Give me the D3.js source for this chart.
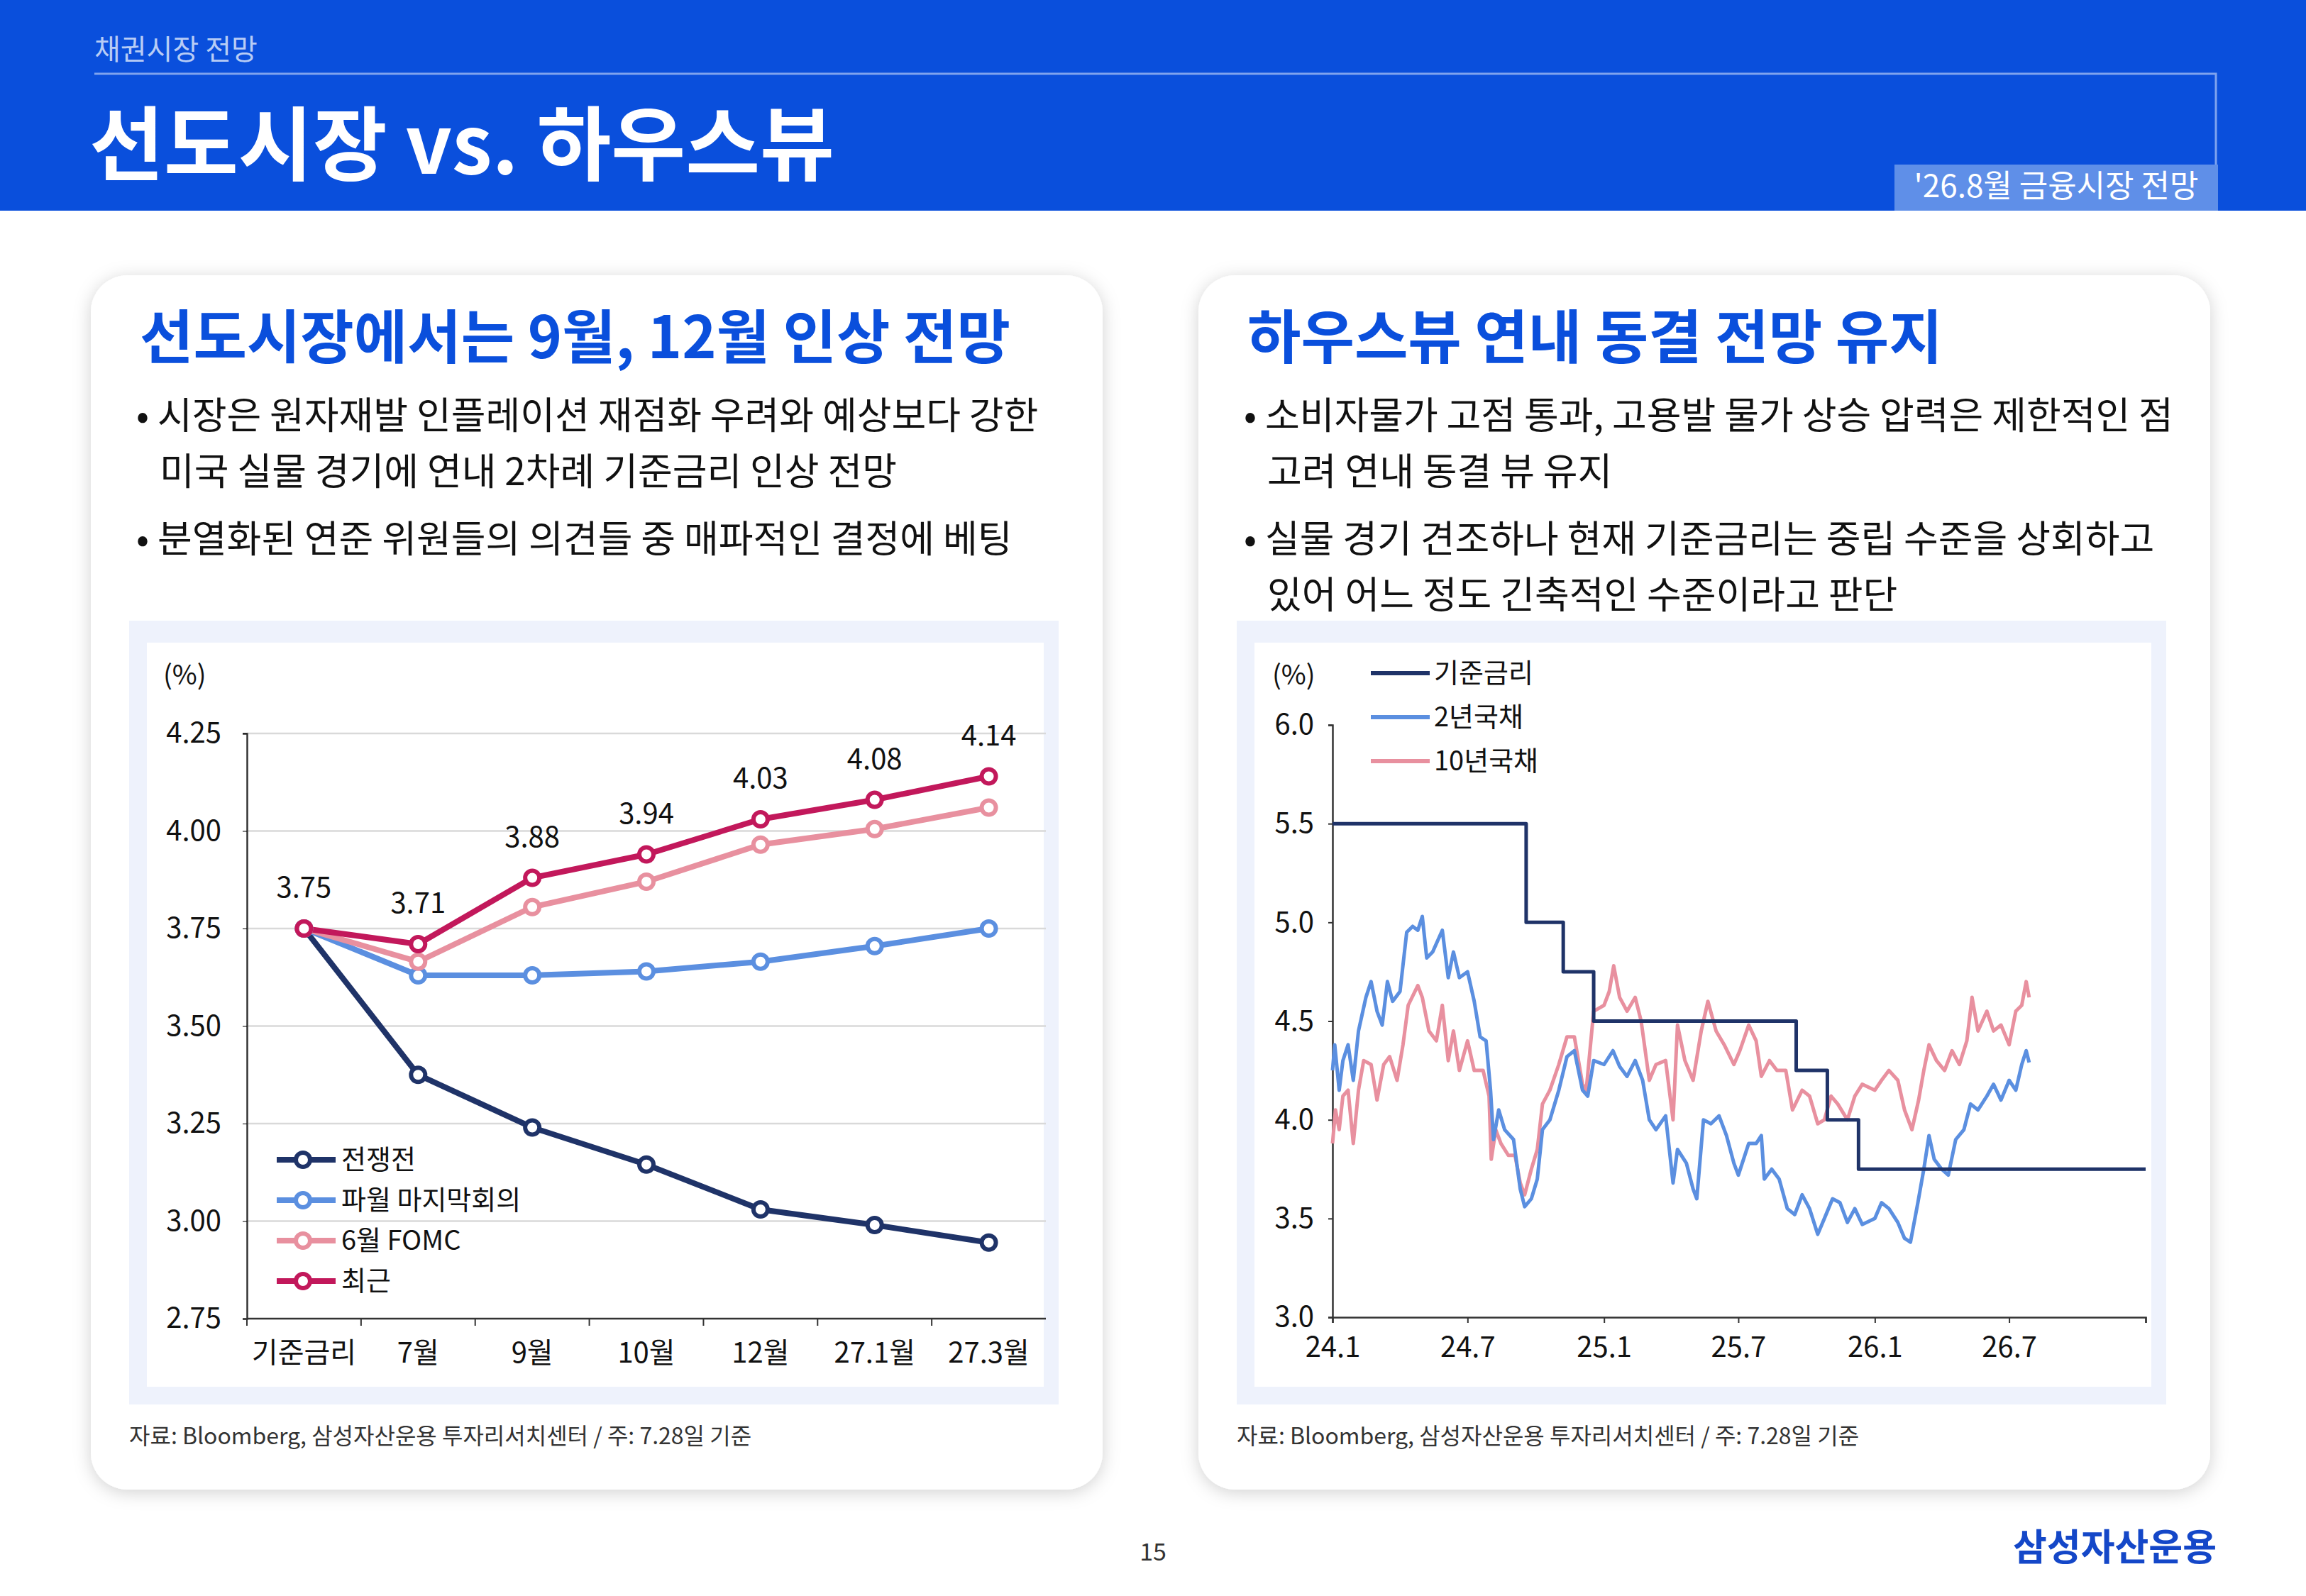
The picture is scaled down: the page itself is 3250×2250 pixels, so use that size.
<!DOCTYPE html>
<html><head><meta charset="utf-8">
<script src="https://cdn.jsdelivr.net/npm/d3@7"></script>
<style>
body{margin:0;background:#fff;}
text{font-family:"Noto Sans CJK KR","Noto Sans",sans-serif;}
</style></head>
<body>
<svg id="c" width="3250" height="2250"></svg>
<script>
// left chart data
const categories = ['기준금리', '7월', '9월', '10월', '12월', '27.1월', '27.3월'];
const prewar = [3.75, 3.375, 3.24, 3.145, 3.03, 2.99, 2.945];
const powellLast = [3.75, 3.63, 3.63, 3.64, 3.665, 3.705, 3.75];
const juneFomc = [3.75, 3.665, 3.805, 3.87, 3.965, 4.005, 4.06];
const recent = [3.75, 3.71, 3.88, 3.94, 4.03, 4.08, 4.14];
const leftTicks = [2.75, 3.0, 3.25, 3.5, 3.75, 4.0, 4.25];

// right chart data
const policyRate = [['2024-01-01', 5.5], ['2024-09-18', 5.0], ['2024-11-07', 4.75], ['2024-12-18', 4.5],
  ['2025-09-17', 4.25], ['2025-10-29', 4.0], ['2025-12-10', 3.75], ['2027-01-01', 3.75]];
const ust2y = [['2024-01-01', 4.25], ['2024-01-04', 4.38], ['2024-01-10', 4.15], ['2024-01-15', 4.30], ['2024-01-22', 4.38],
  ['2024-01-29', 4.20], ['2024-02-05', 4.45], ['2024-02-15', 4.62], ['2024-02-22', 4.70], ['2024-03-01', 4.55],
  ['2024-03-08', 4.48], ['2024-03-15', 4.70], ['2024-03-22', 4.60], ['2024-04-01', 4.65], ['2024-04-10', 4.95],
  ['2024-04-18', 4.98], ['2024-04-25', 4.96], ['2024-05-01', 5.03], ['2024-05-07', 4.82], ['2024-05-15', 4.85],
  ['2024-05-28', 4.96], ['2024-06-05', 4.72], ['2024-06-12', 4.85], ['2024-06-20', 4.72], ['2024-07-01', 4.75],
  ['2024-07-10', 4.60], ['2024-07-18', 4.42], ['2024-07-26', 4.40], ['2024-08-01', 4.15], ['2024-08-05', 3.90],
  ['2024-08-12', 4.05], ['2024-08-20', 3.95], ['2024-09-01', 3.90], ['2024-09-10', 3.65], ['2024-09-16', 3.56],
  ['2024-09-25', 3.60], ['2024-10-03', 3.70], ['2024-10-10', 3.95], ['2024-10-20', 4.00], ['2024-11-01', 4.15],
  ['2024-11-12', 4.32], ['2024-11-22', 4.35], ['2024-12-03', 4.15], ['2024-12-10', 4.12], ['2024-12-18', 4.30],
  ['2025-01-01', 4.28], ['2025-01-13', 4.35], ['2025-01-22', 4.27], ['2025-02-01', 4.22], ['2025-02-12', 4.30],
  ['2025-02-22', 4.20], ['2025-03-03', 4.00], ['2025-03-12', 3.95], ['2025-03-25', 4.02], ['2025-04-04', 3.68],
  ['2025-04-10', 3.85], ['2025-04-22', 3.78], ['2025-05-01', 3.65], ['2025-05-06', 3.60], ['2025-05-15', 4.00],
  ['2025-05-25', 3.98], ['2025-06-05', 4.02], ['2025-06-15', 3.92], ['2025-06-25', 3.78], ['2025-07-01', 3.72],
  ['2025-07-15', 3.88], ['2025-07-25', 3.88], ['2025-08-01', 3.92], ['2025-08-05', 3.70], ['2025-08-15', 3.75],
  ['2025-08-25', 3.70], ['2025-09-05', 3.55], ['2025-09-15', 3.52], ['2025-09-25', 3.62], ['2025-10-05', 3.55],
  ['2025-10-16', 3.42], ['2025-10-25', 3.50], ['2025-11-05', 3.60], ['2025-11-15', 3.58], ['2025-11-25', 3.48],
  ['2025-12-05', 3.55], ['2025-12-15', 3.47], ['2026-01-01', 3.50], ['2026-01-10', 3.58], ['2026-01-20', 3.55],
  ['2026-02-01', 3.48], ['2026-02-10', 3.40], ['2026-02-18', 3.38], ['2026-02-28', 3.58], ['2026-03-08', 3.75],
  ['2026-03-15', 3.92], ['2026-03-22', 3.80], ['2026-04-01', 3.75], ['2026-04-10', 3.72], ['2026-04-20', 3.90],
  ['2026-05-01', 3.95], ['2026-05-10', 4.08], ['2026-05-20', 4.05], ['2026-06-01', 4.12], ['2026-06-10', 4.18],
  ['2026-06-20', 4.10], ['2026-07-01', 4.20], ['2026-07-10', 4.15], ['2026-07-18', 4.28], ['2026-07-24', 4.35],
  ['2026-07-28', 4.29]];
const ust10y = [['2024-01-01', 3.88], ['2024-01-05', 4.05], ['2024-01-10', 3.95], ['2024-01-15', 4.12], ['2024-01-22', 4.15],
  ['2024-01-29', 3.88], ['2024-02-05', 4.15], ['2024-02-12', 4.30], ['2024-02-22', 4.28], ['2024-03-01', 4.10],
  ['2024-03-10', 4.28], ['2024-03-18', 4.32], ['2024-03-28', 4.20], ['2024-04-05', 4.38], ['2024-04-12', 4.58],
  ['2024-04-25', 4.68], ['2024-05-01', 4.62], ['2024-05-10', 4.45], ['2024-05-20', 4.40], ['2024-05-28', 4.58],
  ['2024-06-05', 4.30], ['2024-06-12', 4.45], ['2024-06-20', 4.25], ['2024-07-01', 4.40], ['2024-07-10', 4.25],
  ['2024-07-22', 4.25], ['2024-07-30', 4.12], ['2024-08-02', 3.80], ['2024-08-08', 3.95], ['2024-08-15', 3.88],
  ['2024-08-25', 3.82], ['2024-09-03', 3.82], ['2024-09-10', 3.68], ['2024-09-16', 3.62], ['2024-09-25', 3.75],
  ['2024-10-03', 3.85], ['2024-10-10', 4.08], ['2024-10-20', 4.15], ['2024-11-01', 4.28], ['2024-11-12', 4.42],
  ['2024-11-22', 4.42], ['2024-12-03', 4.18], ['2024-12-08', 4.15], ['2024-12-18', 4.55], ['2025-01-01', 4.58],
  ['2025-01-08', 4.65], ['2025-01-14', 4.78], ['2025-01-22', 4.62], ['2025-02-01', 4.55], ['2025-02-12', 4.62],
  ['2025-02-20', 4.50], ['2025-03-03', 4.20], ['2025-03-12', 4.28], ['2025-03-25', 4.30], ['2025-04-04', 4.00],
  ['2025-04-10', 4.48], ['2025-04-20', 4.30], ['2025-05-01', 4.20], ['2025-05-12', 4.45], ['2025-05-21', 4.60],
  ['2025-06-01', 4.45], ['2025-06-12', 4.38], ['2025-06-25', 4.28], ['2025-07-03', 4.35], ['2025-07-15', 4.48],
  ['2025-07-25', 4.40], ['2025-08-01', 4.22], ['2025-08-12', 4.30], ['2025-08-22', 4.25], ['2025-09-03', 4.25],
  ['2025-09-12', 4.05], ['2025-09-25', 4.15], ['2025-10-05', 4.12], ['2025-10-16', 3.98], ['2025-10-25', 4.00],
  ['2025-11-03', 4.12], ['2025-11-12', 4.08], ['2025-11-25', 4.00], ['2025-12-05', 4.12], ['2025-12-15', 4.18],
  ['2026-01-01', 4.15], ['2026-01-10', 4.20], ['2026-01-20', 4.25], ['2026-02-01', 4.20], ['2026-02-10', 4.05],
  ['2026-02-20', 3.95], ['2026-03-01', 4.10], ['2026-03-08', 4.25], ['2026-03-15', 4.38], ['2026-03-25', 4.30],
  ['2026-04-05', 4.25], ['2026-04-15', 4.35], ['2026-04-25', 4.28], ['2026-05-05', 4.40], ['2026-05-12', 4.62],
  ['2026-05-20', 4.45], ['2026-06-01', 4.55], ['2026-06-10', 4.45], ['2026-06-20', 4.48], ['2026-07-01', 4.38],
  ['2026-07-10', 4.55], ['2026-07-18', 4.58], ['2026-07-24', 4.70], ['2026-07-28', 4.62]];
const rightTicks = [3.0, 3.5, 4.0, 4.5, 5.0, 5.5, 6.0];
const rightXTicks = ['2024-01-01', '2024-07-01', '2025-01-01', '2025-07-01', '2026-01-01', '2026-07-01'];

const blue = '#0a4fdc';
const navy = '#1f3368', lightBlue = '#5b8fe0', pink = '#e8909f', magenta = '#c2185b';

const svg = d3.select('#c');

// header
svg.append('rect').attr('width', 3250).attr('height', 297).attr('fill', blue);
svg.append('text').attr('x', 133).attr('y', 84).attr('fill', '#b8ccf5').attr('font-size', 40).text('채권시장 전망');
svg.append('path').attr('d', 'M133,104H3123V232').attr('fill', 'none').attr('stroke', '#7fa3ee').attr('stroke-width', 3);
svg.append('text').attr('x', 126).attr('y', 245).attr('fill', '#fff').attr('font-size', 114).attr('font-weight', 700)
  .text('선도시장 vs. 하우스뷰');
svg.append('rect').attr('x', 2670).attr('y', 232).attr('width', 456).attr('height', 65).attr('fill', '#5f8fe8');
svg.append('text').attr('x', 2898).attr('y', 278).attr('text-anchor', 'middle').attr('fill', '#fff')
  .attr('font-size', 44).text("'26.8월 금융시장 전망");

// cards
const defs = svg.append('defs');
const f = defs.append('filter').attr('id', 'sh').attr('x', -0.1).attr('y', -0.1).attr('width', 1.2).attr('height', 1.2);
f.append('feDropShadow').attr('dx', 0).attr('dy', 4).attr('stdDeviation', 12).attr('flood-color', '#000').attr('flood-opacity', 0.18);

const cards = [
  { x: 128, title: '선도시장에서는 9월, 12월 인상 전망',
    lines: [['• 시장은 원자재발 인플레이션 재점화 우려와 예상보다 강한', 605, 0], ['미국 실물 경기에 연내 2차례 기준금리 인상 전망', 684, 1],
      ['• 분열화된 연준 위원들의 의견들 중 매파적인 결정에 베팅', 779, 0]] },
  { x: 1689, title: '하우스뷰 연내 동결 전망 유지',
    lines: [['• 소비자물가 고점 통과, 고용발 물가 상승 압력은 제한적인 점', 605, 0], ['고려 연내 동결 뷰 유지', 684, 1],
      ['• 실물 경기 견조하나 현재 기준금리는 중립 수준을 상회하고', 779, 0], ['있어 어느 정도 긴축적인 수준이라고 판단', 858, 1]] },
];
cards.forEach((c) => {
  svg.append('rect').attr('x', c.x).attr('y', 388).attr('width', 1426).attr('height', 1712).attr('rx', 52)
    .attr('fill', '#fff').attr('filter', 'url(#sh)');
  svg.append('text').attr('x', c.x + 69).attr('y', 505).attr('fill', blue).attr('font-size', 82).attr('font-weight', 700).text(c.title);
  c.lines.forEach(([t, y, indent]) => {
    svg.append('text').attr('x', c.x + 64 + indent * 33).attr('y', y).attr('fill', '#111').attr('font-size', 53).text(t);
  });
  svg.append('rect').attr('x', c.x + 54).attr('y', 875).attr('width', 1310).attr('height', 1105).attr('fill', '#eef2fc');
  svg.append('rect').attr('x', c.x + 79).attr('y', 906).attr('width', 1264).attr('height', 1049).attr('fill', '#fff');
  svg.append('text').attr('x', c.x + 54).attr('y', 2036).attr('fill', '#333').attr('font-size', 32)
    .text('자료: Bloomberg, 삼성자산운용 투자리서치센터 / 주: 7.28일 기준');
});

// ---- left chart ----
const lx = d3.scaleBand().domain(categories).range([348, 1474]);
const ly = d3.scaleLinear().domain([2.75, 4.25]).range([1859, 1034]);
const lg = svg.append('g');
lg.selectAll('.grid').data(leftTicks.slice(1)).enter().append('line')
  .attr('x1', 348).attr('x2', 1474).attr('y1', (d) => ly(d)).attr('y2', (d) => ly(d))
  .attr('stroke', '#d9d9d9').attr('stroke-width', 2.5);
const lyAxis = lg.append('g').attr('transform', 'translate(348,0)')
  .call(d3.axisLeft(ly).tickValues(leftTicks).tickFormat(d3.format('.2f')).tickSize(6).tickPadding(30));
const lxAxis = lg.append('g').attr('transform', 'translate(0,1859)')
  .call(d3.axisBottom(lx).tickSize(0).tickPadding(34));
lxAxis.selectAll('.tick').append('line').attr('x1', -lx.bandwidth() / 2).attr('x2', -lx.bandwidth() / 2)
  .attr('y2', 10).attr('stroke', '#333').attr('stroke-width', 2);
[lyAxis, lxAxis].forEach((a) => {
  a.select('.domain').attr('stroke', '#333').attr('stroke-width', 2.5);
  a.selectAll('text').attr('font-size', 40).attr('fill', '#111').attr('font-family', 'Roboto,"Noto Sans CJK KR",sans-serif');
});
lxAxis.select('.domain').attr('d', 'M348,0H1474');
lg.append('text').attr('x', 230).attr('y', 965).attr('font-size', 38).attr('fill', '#111').text('(%)');

const lSeries = [
  { name: '전쟁전', values: prewar, color: navy },
  { name: '파월 마지막회의', values: powellLast, color: lightBlue },
  { name: '6월 FOMC', values: juneFomc, color: pink },
  { name: '최근', values: recent, color: magenta },
];
const cx = (i) => lx(categories[i]) + lx.bandwidth() / 2;
const lline = d3.line().x((d, i) => cx(i)).y((d) => ly(d));
lSeries.forEach((s) => {
  lg.append('path').datum(s.values).attr('d', lline).attr('fill', 'none').attr('stroke', s.color).attr('stroke-width', 8);
});
lSeries.forEach((s) => {
  lg.selectAll(null).data(s.values).enter().append('circle')
    .attr('cx', (d, i) => cx(i)).attr('cy', (d) => ly(d)).attr('r', 10)
    .attr('fill', '#fff').attr('stroke', s.color).attr('stroke-width', 6);
});
lg.selectAll('.lbl').data(recent).enter().append('text')
  .attr('x', (d, i) => cx(i)).attr('y', (d) => ly(d) - 44).attr('text-anchor', 'middle')
  .attr('font-size', 40).attr('fill', '#111').attr('font-family', 'Roboto,sans-serif').text((d) => d.toFixed(2));
lSeries.forEach((s, i) => {
  const y = 1635 + i * 57;
  lg.append('line').attr('x1', 390).attr('x2', 473).attr('y1', y).attr('y2', y).attr('stroke', s.color).attr('stroke-width', 8);
  lg.append('circle').attr('cx', 427).attr('cy', y).attr('r', 10).attr('fill', '#fff').attr('stroke', s.color).attr('stroke-width', 6);
  lg.append('text').attr('x', 481).attr('y', y + 13).attr('font-size', 38).attr('fill', '#111').text(s.name);
});

// ---- right chart ----
const parse = d3.timeParse('%Y-%m-%d');
const rx = d3.scaleTime().domain([parse('2024-01-01'), parse('2027-01-01')]).range([1878, 3024]);
const ry = d3.scaleLinear().domain([3, 6]).range([1857, 1022]);
const rg = svg.append('g');
const ryAxis = rg.append('g').attr('transform', 'translate(1878,0)')
  .call(d3.axisLeft(ry).tickValues(rightTicks).tickFormat(d3.format('.1f')).tickSize(6).tickPadding(20));
const rxAxis = rg.append('g').attr('transform', 'translate(0,1857)')
  .call(d3.axisBottom(rx).tickValues(rightXTicks.map(parse).concat([parse('2027-01-01')]))
    .tickFormat((d) => d.getFullYear() === 2027 ? '' : d3.timeFormat('%y.')(d) + (d.getMonth() + 1)).tickSize(8).tickPadding(20));
[ryAxis, rxAxis].forEach((a) => {
  a.select('.domain').attr('stroke', '#333').attr('stroke-width', 2.5);
  a.selectAll('.tick line').attr('stroke', '#333').attr('stroke-width', 2);
  a.selectAll('text').attr('font-size', 40).attr('fill', '#111').attr('font-family', 'Roboto,sans-serif');
});
rg.append('text').attr('x', 1793).attr('y', 965).attr('font-size', 38).attr('fill', '#111').text('(%)');

const rline = d3.line().x((d) => rx(parse(d[0]))).y((d) => ry(d[1]));
const stepLine = d3.line().x((d) => rx(parse(d[0]))).y((d) => ry(d[1])).curve(d3.curveStepAfter);
const rSeries = [
  { name: '기준금리', data: policyRate, color: navy, gen: stepLine },
  { name: '2년국채', data: ust2y, color: lightBlue, gen: rline },
  { name: '10년국채', data: ust10y, color: pink, gen: rline },
];
[rSeries[2], rSeries[1], rSeries[0]].forEach((s) => {
  rg.append('path').datum(s.data).attr('d', s.gen).attr('fill', 'none').attr('stroke', s.color)
    .attr('stroke-width', 5).attr('stroke-linejoin', 'round');
});
rSeries.forEach((s, i) => {
  const y = 949 + i * 62;
  rg.append('line').attr('x1', 1932).attr('x2', 2015).attr('y1', y).attr('y2', y).attr('stroke', s.color).attr('stroke-width', 6);
  rg.append('text').attr('x', 2021).attr('y', y + 13).attr('font-size', 38).attr('fill', '#111').text(s.name);
});

// footer
svg.append('text').attr('x', 1625).attr('y', 2200).attr('text-anchor', 'middle').attr('font-size', 34).attr('fill', '#333').text('15');
svg.append('text').attr('x', 3124).attr('y', 2200).attr('text-anchor', 'end').attr('font-size', 52).attr('font-weight', 700)
  .attr('fill', '#1447c8').text('삼성자산운용');
</script>
</body></html>
